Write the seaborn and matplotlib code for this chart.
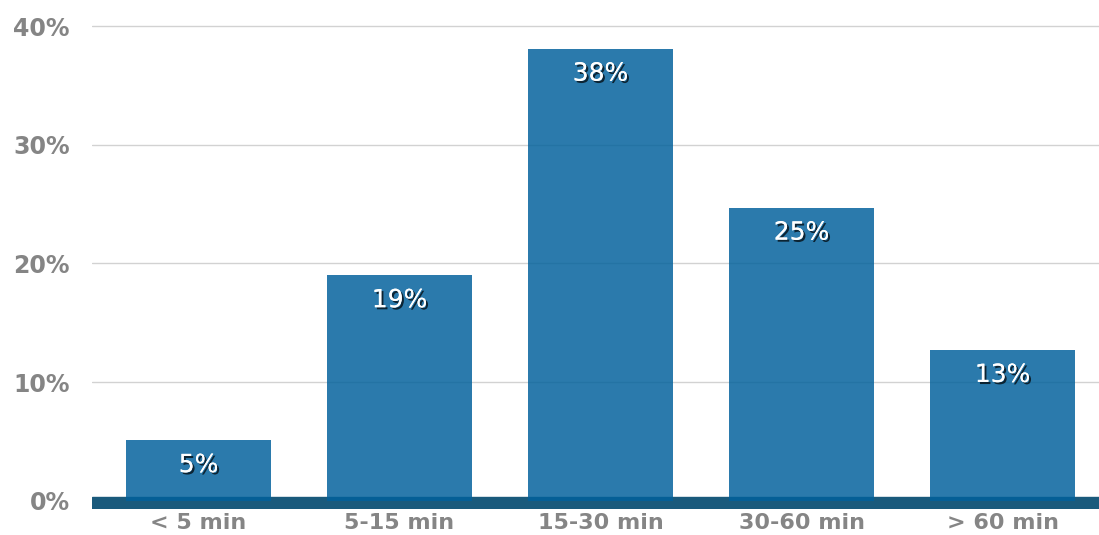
import matplotlib
matplotlib.use("Agg")
import matplotlib.pyplot as plt
import matplotlib.patheffects as pe
import seaborn as sns
import pandas as pd

categories = ["< 5 min", "5-15 min", "15-30 min", "30-60 min", "> 60 min"]
values = [5.1, 19.0, 38.1, 24.7, 12.7]
labels = ["5%", "19%", "38%", "25%", "13%"]
yticks = [0, 10, 20, 30, 40]

df = pd.DataFrame({"duration": categories, "share": values})

sns.set_style("white")
plt.rcParams["font.family"] = ["DejaVu Sans"]

fig = plt.figure(figsize=(10.99, 5.35), dpi=100)
ax = fig.add_axes([92 / 1099, 26 / 535, 1 - 92 / 1099, 484 / 535])

ax.set_axisbelow(True)
ax.grid(axis="y", color="#d2d2d2", linewidth=1)
ax.axhspan(-0.7, 0.35, color="#1a5a7c", zorder=1)

sns.barplot(data=df, x="duration", y="share", color="#02619c", alpha=0.84,
            width=0.725, saturation=1, linewidth=0, ax=ax, zorder=2)

shadow = [pe.withSimplePatchShadow(offset=(1.5, -1.5), shadow_rgbFace="black", alpha=0.7),
          pe.Normal()]
for i, (v, lab) in enumerate(zip(values, labels)):
    ax.text(i, v - 2.1, lab, ha="center", va="center", color="white",
            fontsize=18, path_effects=shadow, zorder=3)

ax.set_xlim(-0.53, 4.48)
ax.set_ylim(-0.7, 40.1)
ax.set_yticks(yticks)
ax.set_yticklabels([f"{t}%" for t in yticks])
ax.tick_params(axis="y", length=0, pad=16, labelsize=17, labelcolor="#858585")
ax.tick_params(axis="x", length=0, pad=3, labelsize=16, labelcolor="#858585")
for lab in ax.get_xticklabels() + ax.get_yticklabels():
    lab.set_fontweight("bold")
ax.set_xlabel("")
ax.set_ylabel("")
sns.despine(ax=ax, left=True, bottom=True)

fig.savefig("out.png", dpi=100)
